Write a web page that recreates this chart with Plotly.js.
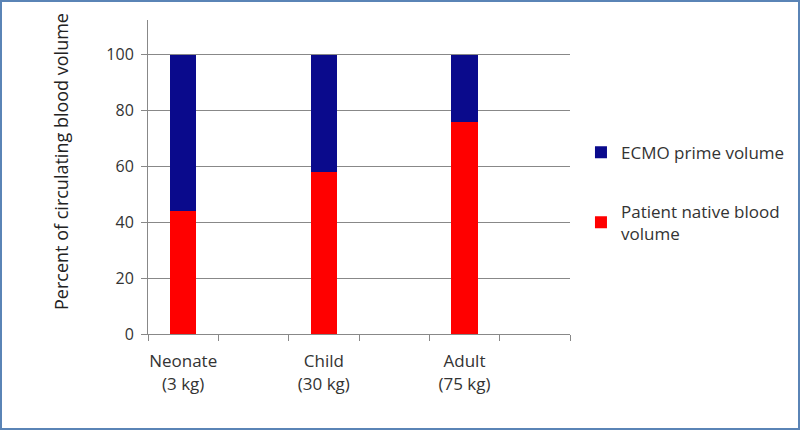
<!DOCTYPE html>
<html>
<head>
<meta charset="utf-8">
<script src="https://cdn.plot.ly/plotly-3.0.1.min.js"></script>
<style>
html,body{margin:0;padding:0;background:#fff;}
#frame{width:796px;height:426px;border:2px solid #5a84b6;}
#chart{width:796px;height:426px;}
</style>
</head>
<body>
<div id="frame"><div id="chart"></div></div>
<script>
const categories = ["Neonate<br>(3 kg)", "Child<br>(30 kg)", "Adult<br>(75 kg)"];
const spacers = [" ", "  ", "   "];
const nativeBlood = [44, 58, 76];
const ecmoPrime = [56, 42, 24];
const seriesNames = ["Patient native blood<br>volume", "ECMO prime volume"];
const yTicks = [0, 20, 40, 60, 80, 100];
const yTitle = "Percent of circulating blood volume";

const slotOrder = [];
categories.forEach((c, i) => { slotOrder.push(c); slotOrder.push(spacers[i]); });

const fam = "Open Sans, Liberation Sans, sans-serif";
const txt = "#333";

const traces = [
  {type: "bar", name: seriesNames[0], x: categories, y: nativeBlood,
   marker: {color: "#ff0000"}, width: 0.37, legendgroup: "a", legendrank: 2, hoverinfo: "none"},
  {type: "bar", name: seriesNames[1], x: categories, y: ecmoPrime,
   marker: {color: "#0a0a8c"}, width: 0.37, legendgroup: "b", legendrank: 1, hoverinfo: "none"}
];

const layout = {
  width: 796, height: 426,
  margin: {l: 146, r: 228, t: 18, b: 94, autoexpand: false},
  barmode: "stack",
  paper_bgcolor: "#fff", plot_bgcolor: "#fff",
  font: {family: fam, size: 16, color: txt},
  showlegend: true,
  legend: {x: 1.026, y: 0.635, xanchor: "left", yanchor: "top",
           traceorder: "grouped", tracegroupgap: 34,
           font: {family: fam, size: 17, color: txt},
           itemwidth: 30},
  xaxis: {type: "category", categoryorder: "array", categoryarray: slotOrder,
          range: [-0.5, 5.5], tickson: "boundaries", ticks: "outside", ticklen: 6,
          tickcolor: "#888", showline: true, linecolor: "#888", linewidth: 1,
          ticklabelstandoff: 12, tickangle: 0,
          showgrid: false, tickfont: {family: fam, size: 17, color: txt}},
  yaxis: {range: [0, 112.5], tickvals: yTicks, ticktext: yTicks.map(String),
          ticks: "outside", ticklen: 6, tickcolor: "#888",
          showline: true, linecolor: "#888", linewidth: 1,
          ticklabelstandoff: 4,
          showgrid: true, gridcolor: "#888", gridwidth: 1, zeroline: false,
          tickfont: {family: fam, size: 16, color: txt}},
  annotations: [{text: yTitle, textangle: -90, showarrow: false,
                 xref: "paper", yref: "paper", x: -0.206, y: 0.548,
                 xanchor: "center", yanchor: "middle",
                 font: {family: fam, size: 18, color: "#222"}}]
};

Plotly.newPlot("chart", traces, layout, {displayModeBar: false, staticPlot: true});
</script>
</body>
</html>
